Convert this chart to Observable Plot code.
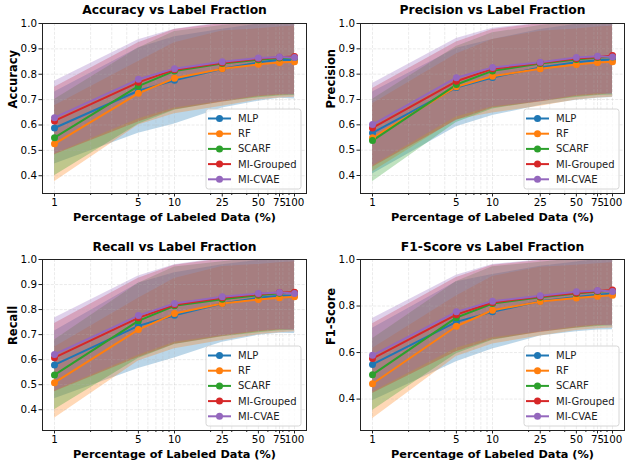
<!DOCTYPE html>
<html>
<head>
<meta charset="utf-8">
<script src="https://cdn.jsdelivr.net/npm/d3@7"></script>
<script src="https://cdn.jsdelivr.net/npm/@observablehq/plot@0.6"></script>
<style>
  html, body { margin: 0; padding: 0; background: #fff; }
  #root { position: relative; width: 625px; height: 460px; background: #fff; overflow: hidden; font-family: "DejaVu Sans", sans-serif; }
  .panel { position: absolute; }
  .legend { position: absolute; }
</style>
</head>
<body>
<div id="root"></div>
<script>
// ---------------- DATA ----------------
const labelPcts = [1, 5, 10, 25, 50, 75, 100];
const seriesNames = ["MLP", "RF", "SCARF", "MI-Grouped", "MI-CVAE"];
const seriesColors = ["#1f77b4", "#ff7f0e", "#2ca02c", "#d62728", "#9467bd"];
const majorTicks = [1, 5, 10, 25, 50, 75, 100];
const minorTicks = [2, 3, 4, 6, 7, 8, 9, 20, 30, 40, 60, 70, 80, 90];
const gridXTicks = [1, 2, 3, 4, 5, 6, 7, 8, 9, 10, 20, 25, 30, 40, 50, 60, 70, 75, 80, 90, 100];
const yTicksTenth = [0.4, 0.5, 0.6, 0.7, 0.8, 0.9, 1.0];
const yTicksFifth = [0.4, 0.6, 0.8, 1.0];

// rows follow seriesNames order, columns follow labelPcts
const accuracyMean = [
  [0.588, 0.735, 0.776, 0.822, 0.846, 0.857, 0.855],
  [0.526, 0.725, 0.784, 0.822, 0.839, 0.846, 0.849],
  [0.550, 0.753, 0.813, 0.842, 0.857, 0.864, 0.866],
  [0.616, 0.768, 0.818, 0.845, 0.861, 0.867, 0.870],
  [0.629, 0.780, 0.822, 0.849, 0.864, 0.868, 0.866]
];
const accuracyStd = [
  [0.142, 0.168, 0.172, 0.155, 0.152, 0.152, 0.153],
  [0.150, 0.125, 0.140, 0.148, 0.140, 0.140, 0.140],
  [0.150, 0.150, 0.155, 0.150, 0.150, 0.150, 0.150],
  [0.133, 0.156, 0.158, 0.155, 0.150, 0.150, 0.150],
  [0.143, 0.156, 0.155, 0.155, 0.150, 0.148, 0.148]
];
const precisionMean = [
  [0.568, 0.747, 0.787, 0.826, 0.847, 0.855, 0.858],
  [0.549, 0.750, 0.792, 0.821, 0.838, 0.846, 0.849],
  [0.538, 0.759, 0.813, 0.842, 0.858, 0.866, 0.868],
  [0.588, 0.772, 0.821, 0.845, 0.862, 0.868, 0.874],
  [0.601, 0.786, 0.826, 0.847, 0.866, 0.871, 0.868]
];
const precisionStd = [
  [0.162, 0.155, 0.150, 0.150, 0.150, 0.150, 0.150],
  [0.134, 0.130, 0.145, 0.148, 0.140, 0.140, 0.140],
  [0.163, 0.150, 0.150, 0.150, 0.150, 0.150, 0.150],
  [0.155, 0.155, 0.155, 0.155, 0.150, 0.150, 0.150],
  [0.162, 0.155, 0.155, 0.155, 0.150, 0.148, 0.148]
];
const recallMean = [
  [0.579, 0.735, 0.777, 0.824, 0.847, 0.855, 0.856],
  [0.508, 0.720, 0.784, 0.824, 0.840, 0.847, 0.851],
  [0.539, 0.755, 0.815, 0.841, 0.857, 0.865, 0.867],
  [0.608, 0.767, 0.819, 0.847, 0.861, 0.868, 0.869],
  [0.621, 0.776, 0.824, 0.851, 0.864, 0.868, 0.864]
];
const recallStd = [
  [0.135, 0.170, 0.170, 0.155, 0.150, 0.150, 0.152],
  [0.142, 0.125, 0.140, 0.148, 0.140, 0.140, 0.140],
  [0.139, 0.150, 0.155, 0.150, 0.150, 0.150, 0.150],
  [0.136, 0.158, 0.158, 0.155, 0.150, 0.150, 0.150],
  [0.145, 0.158, 0.155, 0.155, 0.150, 0.148, 0.148]
];
const f1Mean = [
  [0.549, 0.732, 0.775, 0.821, 0.839, 0.849, 0.854],
  [0.466, 0.713, 0.782, 0.819, 0.835, 0.842, 0.846],
  [0.505, 0.750, 0.811, 0.838, 0.854, 0.862, 0.865],
  [0.574, 0.763, 0.815, 0.841, 0.856, 0.865, 0.869],
  [0.588, 0.775, 0.821, 0.844, 0.861, 0.867, 0.862]
];
const f1Std = [
  [0.156, 0.172, 0.160, 0.150, 0.150, 0.152, 0.156],
  [0.151, 0.130, 0.145, 0.148, 0.140, 0.140, 0.140],
  [0.154, 0.155, 0.158, 0.150, 0.150, 0.150, 0.150],
  [0.150, 0.160, 0.160, 0.155, 0.150, 0.150, 0.150],
  [0.158, 0.157, 0.157, 0.155, 0.150, 0.148, 0.148]
];

// ---------------- LAYOUT ----------------
const panels = [
  {title: "Accuracy vs Label Fraction", ylabel: "Accuracy", mean: accuracyMean, std: accuracyStd,
   yDomain: [0.330, 1.0], yTicks: yTicksTenth,
   left: 0, top: 0, width: 312, height: 230, mL: 42, mR: 6, mT: 23, mB: 37},
  {title: "Precision vs Label Fraction", ylabel: "Precision", mean: precisionMean, std: precisionStd,
   yDomain: [0.329, 1.0], yTicks: yTicksTenth,
   left: 312, top: 0, width: 313, height: 230, mL: 48, mR: 1, mT: 23, mB: 37},
  {title: "Recall vs Label Fraction", ylabel: "Recall", mean: recallMean, std: recallStd,
   yDomain: [0.317, 1.0], yTicks: yTicksTenth,
   left: 0, top: 230, width: 312, height: 230, mL: 42, mR: 6, mT: 29, mB: 30},
  {title: "F1-Score vs Label Fraction", ylabel: "F1-Score", mean: f1Mean, std: f1Std,
   yDomain: [0.265, 1.0], yTicks: yTicksFifth,
   left: 312, top: 230, width: 313, height: 230, mL: 48, mR: 1, mT: 29, mB: 30}
];

const root = document.getElementById("root");
const gridStyle = {stroke: "#b0b0b0", strokeOpacity: 0.32, strokeWidth: 0.8, strokeDasharray: "3,1.4"};

for (const p of panels) {
  const rows = seriesNames.flatMap((s, i) => labelPcts.map((pct, j) => ({
    series: s, pct, mean: p.mean[i][j],
    lo: p.mean[i][j] - p.std[i][j], hi: p.mean[i][j] + p.std[i][j]
  })));

  const chart = Plot.plot({
    width: p.width, height: p.height,
    marginLeft: p.mL, marginRight: p.mR, marginTop: p.mT, marginBottom: p.mB,
    style: {fontFamily: "DejaVu Sans", fontSize: "10px", background: "transparent", color: "#000", overflow: "visible"},
    x: {type: "log", domain: [Math.pow(10, -0.1), Math.pow(10, 2.1)]},
    y: {domain: p.yDomain},
    color: {domain: seriesNames, range: seriesColors},
    marks: [
      Plot.areaY(rows, {x: "pct", y1: "lo", y2: "hi", z: "series", fill: "series", fillOpacity: 0.3, clip: true}),
      Plot.gridY(p.yTicks, gridStyle),
      Plot.gridX(gridXTicks, gridStyle),
      Plot.line(rows, {x: "pct", y: "mean", z: "series", stroke: "series", strokeWidth: 2}),
      Plot.dot(rows, {x: "pct", y: "mean", fill: "series", r: 3.5}),
      Plot.frame({stroke: "#222", strokeWidth: 1}),
      Plot.axisX(minorTicks, {tickSize: 2, tickFormat: () => "", label: null, stroke: "#222"}),
      Plot.axisX(majorTicks, {tickSize: 3.5, tickFormat: () => "", label: null, stroke: "#222"}),
      Plot.text(majorTicks, {x: d => d, text: d => String(d), frameAnchor: "bottom", lineAnchor: "top", dy: 5.5, fontSize: 10.3, fill: "#000"}),
      Plot.axisY(p.yTicks, {tickSize: 3.5, tickPadding: 2, tickFormat: d3.format(".1f"), label: null, stroke: "#222", fill: "#000", fontSize: 10.3}),
      Plot.text([p.title], {frameAnchor: "top", lineAnchor: "middle", dy: p.mT === 23 ? -13 : -12.5, fontWeight: "bold", fontSize: 12.3, fill: "#000"}),
      Plot.text(["Percentage of Labeled Data (%)"], {frameAnchor: "bottom", lineAnchor: "middle", dy: 23.5, fontWeight: "bold", fontSize: 11.3, fill: "#000"}),
      Plot.text([p.ylabel], {frameAnchor: "left", lineAnchor: "middle", dx: -29, rotate: -90, fontWeight: "bold", fontSize: 11.5, fill: "#000"})
    ]
  });
  const wrap = document.createElement("div");
  wrap.className = "panel";
  wrap.style.left = p.left + "px";
  wrap.style.top = p.top + "px";
  wrap.appendChild(chart);
  root.appendChild(wrap);

  // legend (lower right inside the axes)
  const lw = 95, lh = 80;
  const frameRight = p.left + p.width - p.mR;
  const frameBottom = p.top + p.height - p.mB;
  const lx = frameRight - 5 - lw, ly = frameBottom - 4 - lh;
  const svg = d3.create("svg").attr("class", "legend")
    .attr("width", lw + 2).attr("height", lh + 2)
    .style("left", (lx - 1) + "px").style("top", (ly - 1) + "px");
  svg.append("rect").attr("x", 1).attr("y", 1).attr("width", lw).attr("height", lh)
    .attr("rx", 2.5).attr("fill", "rgba(255,255,255,0.8)").attr("stroke", "#cccccc").attr("stroke-width", 0.8);
  seriesNames.forEach((s, i) => {
    const cy = 1 + 9.5 + i * 15.2;
    const g = svg.append("g");
    g.append("line").attr("x1", 3).attr("x2", 26).attr("y1", cy).attr("y2", cy)
      .attr("stroke", seriesColors[i]).attr("stroke-width", 2);
    g.append("circle").attr("cx", 14.5).attr("cy", cy).attr("r", 3.5).attr("fill", seriesColors[i]);
    g.append("text").attr("x", 33).attr("y", cy).attr("dy", "0.35em")
      .attr("font-family", "DejaVu Sans").attr("font-size", 10).attr("fill", "#222").text(s);
  });
  root.appendChild(svg.node());
}
</script>
</body>
</html>
